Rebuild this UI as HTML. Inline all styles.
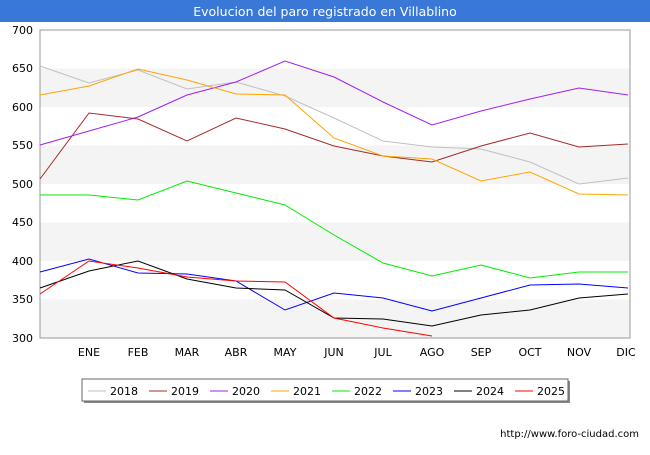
<!DOCTYPE html>
<html><head><meta charset="utf-8"><style>
body{margin:0;width:650px;height:450px;background:#fff;font-family:"Liberation Sans","DejaVu Sans",sans-serif;overflow:hidden}
</style></head><body>
<svg width="650" height="450" xmlns="http://www.w3.org/2000/svg" font-family="DejaVu Sans, Liberation Sans, sans-serif">
<rect x="0" y="0" width="650" height="22" fill="#3a78d8"/>
<text x="325" y="16" text-anchor="middle" fill="#fff" font-size="12.5">Evolucion del paro registrado en Villablino</text>
<rect x="40" y="30" width="590" height="308" fill="#fff" stroke="#999" stroke-width="1"/>
<g fill="#f4f4f4">
<rect x="40.5" y="68.5" width="589" height="38.5"/>
<rect x="40.5" y="145.5" width="589" height="38.5"/>
<rect x="40.5" y="222.5" width="589" height="38.5"/>
<rect x="40.5" y="299.5" width="589" height="38"/>
</g>
<rect x="40" y="30" width="590" height="308" fill="none" stroke="#999"/>
<g font-size="11" fill="#000" text-anchor="end">
<text x="33" y="34">700</text><text x="33" y="72">650</text><text x="33" y="111">600</text><text x="33" y="149">550</text><text x="33" y="188">500</text><text x="33" y="226">450</text><text x="33" y="265">400</text><text x="33" y="303">350</text><text x="33" y="342">300</text>
</g>
<g font-size="11" fill="#000" text-anchor="middle">
<text x="89" y="356">ENE</text><text x="138" y="356">FEB</text><text x="187" y="356">MAR</text><text x="236" y="356">ABR</text><text x="285" y="356">MAY</text><text x="334" y="356">JUN</text><text x="383" y="356">JUL</text><text x="432" y="356">AGO</text><text x="481" y="356">SEP</text><text x="530" y="356">OCT</text><text x="579" y="356">NOV</text><text x="626" y="356">DIC</text>
</g>
<g fill="none" stroke-width="1">
<polyline stroke="#c0c0c0" points="40,66 89,83 138,70 187,89 236,82 285,96 334,118 383,141 432,147 481,149 530,162 579,184 628,178"/>
<polyline stroke="#a52a2a" points="40,179 89,113 138,119 187,141 236,118 285,129 334,146 383,156 432,162 481,146 530,133 579,147 628,144"/>
<polyline stroke="#a020f0" points="40,145 89,131 138,117 187,95 236,82 285,61 334,77 383,102 432,125 481,111 530,99 579,88 628,95"/>
<polyline stroke="#ffa500" points="40,95 89,86 138,69 187,80 236,94 285,95 334,138 383,156 432,159 481,181 530,172 579,194 628,195"/>
<polyline stroke="#00ee00" points="40,195 89,195 138,200 187,181 236,193 285,205 334,235 383,263 432,276 481,265 530,278 579,272 628,272"/>
<polyline stroke="#0000ff" points="40,272 89,259 138,273 187,274 236,281 285,310 334,293 383,298 432,311 481,298 530,285 579,284 628,288"/>
<polyline stroke="#000000" points="40,288 89,271 138,261 187,279 236,288 285,290 334,318 383,319 432,326 481,315 530,310 579,298 628,294"/>
<polyline stroke="#ff0000" points="40,294 89,261 138,268 187,277 236,281 285,282 334,318 383,328 432,336"/>
</g>
<rect x="84" y="381" width="486" height="22" fill="#888"/>
<rect x="82" y="379" width="486" height="22" fill="#fff" stroke="#666"/>
<g font-size="11" fill="#000">
<line x1="88" y1="391" x2="106" y2="391" stroke="#c0c0c0"/><text x="110" y="395">2018</text>
<line x1="149" y1="391" x2="167" y2="391" stroke="#a52a2a"/><text x="171" y="395">2019</text>
<line x1="210" y1="391" x2="228" y2="391" stroke="#a020f0"/><text x="232" y="395">2020</text>
<line x1="271" y1="391" x2="289" y2="391" stroke="#ffa500"/><text x="293" y="395">2021</text>
<line x1="332" y1="391" x2="350" y2="391" stroke="#00ee00"/><text x="354" y="395">2022</text>
<line x1="393" y1="391" x2="411" y2="391" stroke="#0000ff"/><text x="415" y="395">2023</text>
<line x1="454" y1="391" x2="472" y2="391" stroke="#000"/><text x="476" y="395">2024</text>
<line x1="515" y1="391" x2="533" y2="391" stroke="#ff0000"/><text x="537" y="395">2025</text>
</g>
<text x="639" y="437" text-anchor="end" font-size="10" fill="#000">http://www.foro-ciudad.com</text>
</svg>
</body></html>
